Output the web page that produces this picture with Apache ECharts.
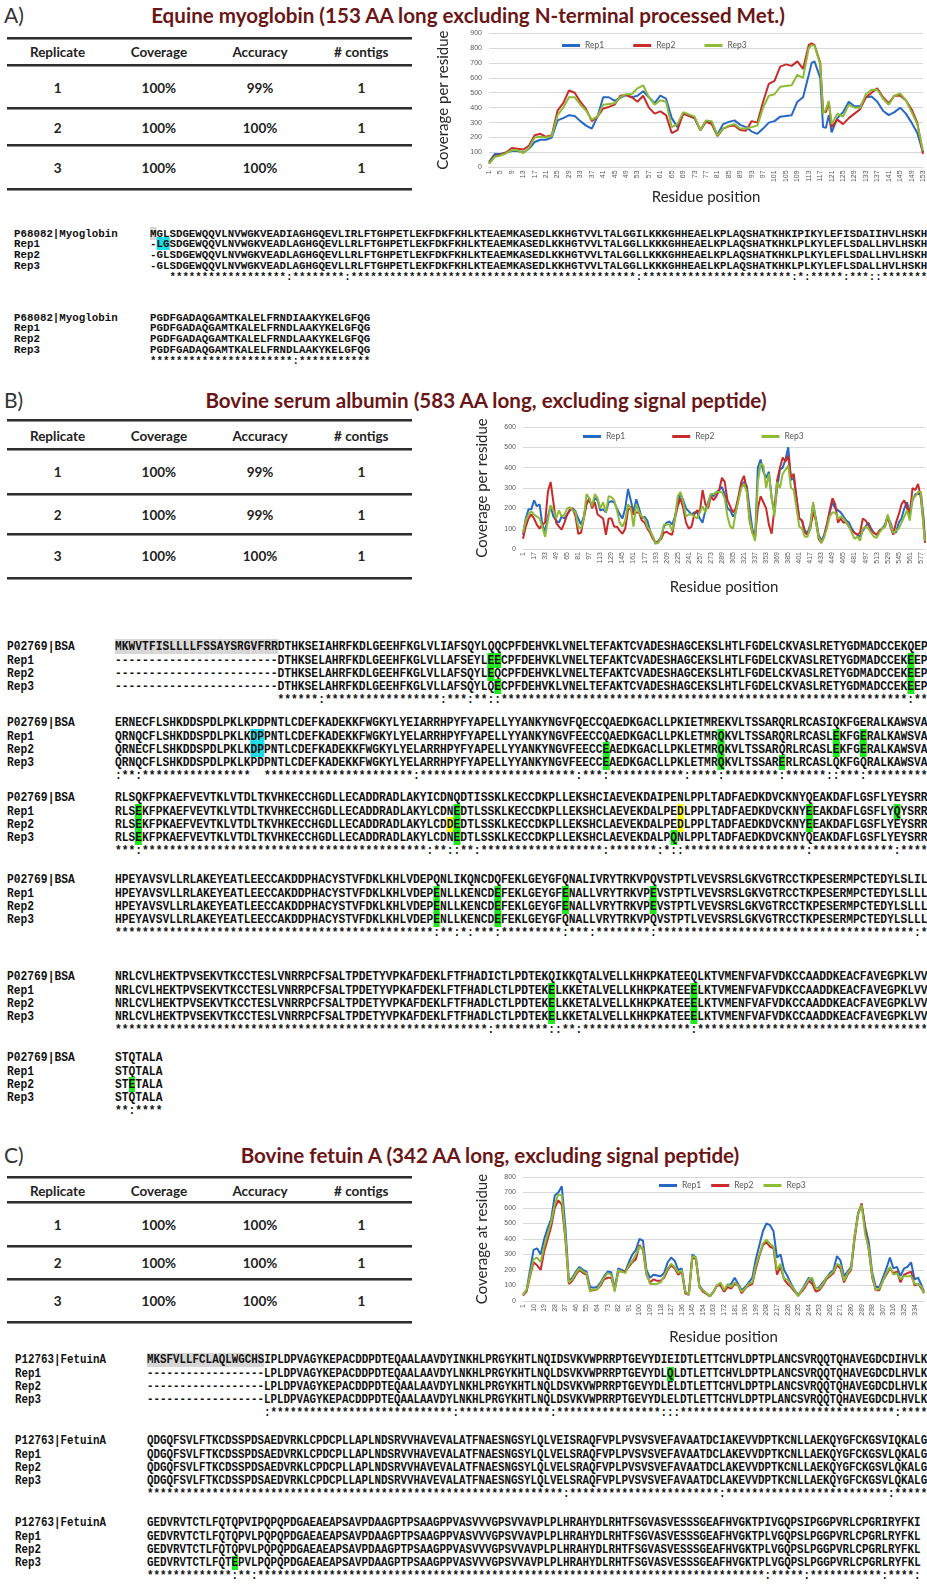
<!DOCTYPE html>
<html>
<head>
<meta charset="utf-8">
<script src="https://cdn.jsdelivr.net/npm/echarts@6.0.0/dist/echarts.min.js"></script>
<style>
  html, body { margin: 0; padding: 0; background: #fff; }
  #page { position: relative; width: 927px; height: 1584px; overflow: hidden; background: #fff; }
  .abs { position: absolute; white-space: pre; }
  .title { font-family: Lato, "Open Sans", sans-serif; font-weight: 700; color: #6b1616; text-align: center; }
  .panel { font-family: Lato, "Open Sans", sans-serif; color: #333; }
  .cell { font-family: Lato, "Open Sans", sans-serif; font-weight: 700; color: #222; text-align: center; }
  .seq { font-family: "Liberation Mono", "DejaVu Sans Mono", monospace; font-weight: 700; color: #111; transform-origin: left center; }
</style>
</head>
<body>
<div id="page"></div>
<script>
// ---------- coverage data (residue position -> coverage) ----------
const mbPos = [1,3,5,7,9,11,13,15,17,19,
  21,23,25,27,29,31,33,35,37,39,
  41,43,45,47,49,51,53,55,57,59,
  61,63,65,67,69,71,73,75,77,79,
  81,83,85,87,89,91,93,95,97,99,
  101,103,105,107,109,111,113,114,115,117,
  118,119,120,121,123,125,127,129,131,133,
  135,137,139,141,143,145,147,149,151,153]
const mbRep1 = [35,90,90,100,110,110,100,125,170,185,
  185,200,315,330,350,345,310,280,260,340,
  470,470,445,465,485,470,480,510,470,430,
  480,460,330,270,360,345,330,250,310,300,
  220,290,305,315,285,270,240,225,260,300,
  310,340,345,350,440,470,620,700,710,600,
  270,265,350,235,330,370,440,410,410,470,
  475,440,380,350,370,400,360,300,230,100]
const mbRep2 = [25,75,85,100,130,125,120,145,215,225,
  205,215,380,430,515,500,440,390,310,340,
  395,405,420,480,485,470,440,480,400,360,
  375,350,230,250,360,345,330,250,305,290,
  210,260,275,280,250,245,310,300,440,560,
  580,675,690,680,710,660,820,830,820,700,
  380,370,440,270,320,290,330,360,390,470,
  500,530,470,430,480,480,450,390,300,90]
const mbRep3 = [25,70,80,95,115,115,95,130,200,205,
  200,210,350,400,470,470,420,380,320,340,
  420,425,430,470,490,490,530,550,470,420,
  450,440,270,290,370,355,340,250,315,310,
  215,260,280,290,260,260,270,280,400,480,
  490,540,545,550,620,600,800,820,815,690,
  360,390,445,290,360,340,420,400,400,490,
  520,520,460,420,480,495,450,370,290,110]

const bsaPos = [1,5,9,13,17,21,25,29,33,37,
  41,45,49,53,57,61,65,69,73,77,
  81,85,89,93,97,101,105,109,113,117,
  121,125,129,133,137,141,145,149,153,157,
  161,165,169,173,177,181,185,189,193,197,
  201,205,209,213,217,221,225,229,233,237,
  241,245,249,253,257,261,265,269,273,277,
  281,285,289,293,297,301,305,309,313,317,
  321,325,329,333,337,341,345,349,353,357,
  361,365,369,373,377,381,385,389,393,397,
  401,405,409,413,417,421,425,429,433,437,
  441,445,449,453,457,461,465,469,473,477,
  481,485,489,493,497,501,505,509,513,517,
  521,525,529,533,537,541,545,549,553,557,
  561,565,569,573,577,581,583]
const bsaRep1 = [70,150,195,195,240,210,220,120,85,160,
  210,160,140,130,160,150,170,190,200,185,
  150,120,160,230,240,210,250,240,190,195,
  180,230,235,230,200,170,150,200,295,240,
  180,245,200,150,160,140,90,60,25,40,
  60,110,130,135,120,160,230,270,240,200,
  185,170,180,180,150,130,190,230,270,260,
  280,290,305,270,200,190,160,180,250,310,
  330,310,200,100,50,400,440,380,350,380,
  250,180,300,390,400,440,500,340,350,250,
  150,140,90,80,120,220,150,70,40,70,
  120,180,230,200,190,180,160,140,130,100,
  80,70,60,90,110,130,100,80,70,90,
  100,120,160,130,90,80,130,150,200,230,
  170,240,270,270,280,150,40]
const bsaRep2 = [50,110,150,170,150,120,100,120,130,280,
  330,230,130,110,95,130,170,195,200,160,
  75,80,150,220,250,200,230,170,160,150,
  70,150,150,110,110,90,75,100,190,210,
  170,180,180,140,130,100,80,50,35,35,
  50,80,85,75,70,150,210,250,200,130,
  100,110,170,190,180,290,220,200,260,240,
  260,290,350,330,240,210,180,200,260,330,
  360,290,140,80,60,200,260,230,200,120,
  75,200,340,400,450,430,460,350,370,250,
  150,140,80,70,100,180,140,50,30,60,
  120,190,250,220,130,150,130,130,110,90,
  80,70,80,150,140,120,90,80,70,90,
  100,110,160,110,70,130,170,220,240,200,
  180,300,290,320,250,120,30]
const bsaRep3 = [80,140,170,185,170,160,150,110,60,140,
  215,190,150,190,160,170,200,205,190,180,
  110,100,150,270,250,210,270,250,200,230,
  180,260,255,240,190,130,110,140,220,200,
  110,220,180,160,150,110,90,60,30,30,
  60,120,120,120,90,150,260,280,230,160,
  170,170,160,150,180,210,180,220,270,270,
  280,280,280,250,160,110,100,180,240,300,
  320,280,150,80,40,330,420,410,300,370,
  250,160,330,300,370,390,410,300,290,200,
  110,100,60,60,110,230,140,60,30,60,
  100,160,180,180,150,160,150,130,110,80,
  50,60,40,100,110,100,80,60,55,80,
  100,110,170,120,80,90,100,130,160,190,
  140,250,260,280,280,100,40]

const fetPos = [1,4,7,10,13,16,19,22,25,28,
  31,34,37,40,43,46,49,52,55,58,
  61,64,67,70,73,76,79,82,85,88,
  91,94,97,100,103,106,109,112,115,118,
  121,124,127,130,133,136,139,142,145,148,
  151,154,157,160,163,166,169,172,175,178,
  181,184,187,190,193,196,199,202,205,208,
  211,214,217,220,223,226,229,232,235,238,
  241,244,247,250,253,256,259,262,265,268,
  271,274,277,280,283,286,289,292,295,298,
  301,304,307,310,313,316,319,322,325,328,
  331,334,337,340,342]
const fetRep1 = [40,70,200,330,340,300,400,470,530,680,
  700,740,480,130,150,190,220,200,190,90,
  85,90,120,160,190,185,80,210,200,190,
  250,300,330,400,390,200,150,170,165,160,
  180,250,280,260,200,210,60,40,300,280,
  100,70,50,30,60,100,110,60,100,110,
  150,110,70,90,120,150,270,360,450,500,
  490,450,280,300,200,160,110,70,40,70,
  110,150,130,80,90,120,150,180,200,290,
  260,160,190,220,420,570,620,480,380,180,
  90,90,150,210,280,210,220,160,210,220,
  250,140,150,100,60]
const fetRep2 = [35,60,160,250,230,200,320,400,480,600,
  650,620,400,110,130,170,200,180,170,70,
  70,75,100,140,150,150,70,190,190,190,
  220,250,270,360,330,170,120,140,130,130,
  150,200,230,210,170,190,50,40,280,270,
  90,60,45,30,60,100,100,60,90,80,
  110,100,50,80,100,110,210,290,360,380,
  350,340,170,220,140,110,90,60,35,60,
  90,130,110,60,70,100,140,160,180,230,
  210,120,170,200,400,560,630,460,330,150,
  70,70,130,170,210,180,190,120,170,180,
  190,100,110,80,50]
const fetRep3 = [40,70,170,270,280,250,350,430,510,620,
  690,680,420,120,140,180,210,190,180,60,
  75,75,110,150,180,170,60,200,190,180,
  230,260,300,350,340,180,110,110,110,120,
  160,210,240,220,180,200,60,40,290,280,
  90,70,50,30,60,100,120,70,110,90,
  120,100,60,80,110,120,230,300,370,395,
  370,350,200,240,140,140,100,70,30,70,
  100,140,150,80,80,110,150,170,190,240,
  230,130,180,210,420,560,620,430,340,160,
  70,80,130,180,220,170,180,140,160,160,
  160,110,110,90,50]

const repNames = ['Rep1', 'Rep2', 'Rep3']
const repColors = ['#2668c4', '#c92a2a', '#8dbb36']

// ---------- tables ----------
const tableHead = ['Replicate', 'Coverage', 'Accuracy', '# contigs']
const tableA = [['1', '100%', '99%', '1'], ['2', '100%', '100%', '1'], ['3', '100%', '100%', '1']]
const tableB = [['1', '100%', '99%', '1'], ['2', '100%', '99%', '1'], ['3', '100%', '100%', '1']]
const tableC = [['1', '100%', '100%', '1'], ['2', '100%', '100%', '1'], ['3', '100%', '100%', '1']]

// ---------- alignments ----------
const mbSeqRef = ['MGLSDGEWQQVLNVWGKVEADIAGHGQEVLIRLFTGHPETLEKFDKFKHLKTEAEMKASEDLKKHGTVVLTALGGILKKKGHHEAELKPLAQSHATKHKIPIKYLEFISDAIIHVLHSKH',
  'PGDFGADAQGAMTKALELFRNDIAAKYKELGFQG']
const mbSeq1 = ['-LGSDGEWQQVLNVWGKVEADLAGHGQEVLLRLFTGHPETLEKFDKFKHLKTEAEMKASEDLKKHGTVVLTALGGLLKKKGHHEAELKPLAQSHATKHKLPLKYLEFLSDALLHVLHSKH',
  'PGDFGADAQGAMTKALELFRNDLAAKYKELGFQG']
const mbSeq2 = ['-GLSDGEWQQVLNVWGKVEADLAGHGQEVLLRLFTGHPETLEKFDKFKHLKTEAEMKASEDLKKHGTVVLTALGGLLKKKGHHEAELKPLAQSHATKHKLPLKYLEFLSDALLHVLHSKH',
  'PGDFGADAQGAMTKALELFRNDLAAKYKELGFQG']
const mbSeq3 = mbSeq2
// [block, row, col, colour]
const mbMarks = [[0, 0, 0, 'g'], [0, 1, 1, 'c'], [0, 1, 2, 'c']]

const bsaSeqRef = ['MKWVTFISLLLLFSSAYSRGVFRRDTHKSEIAHRFKDLGEEHFKGLVLIAFSQYLQQCPFDEHVKLVNELTEFAKTCVADESHAGCEKSLHTLFGDELCKVASLRETYGDMADCCEKQEP',
  'ERNECFLSHKDDSPDLPKLKPDPNTLCDEFKADEKKFWGKYLYEIARRHPYFYAPELLYYANKYNGVFQECCQAEDKGACLLPKIETMREKVLTSSARQRLRCASIQKFGERALKAWSVA',
  'RLSQKFPKAEFVEVTKLVTDLTKVHKECCHGDLLECADDRADLAKYICDNQDTISSKLKECCDKPLLEKSHCIAEVEKDAIPENLPPLTADFAEDKDVCKNYQEAKDAFLGSFLYEYSRR',
  'HPEYAVSVLLRLAKEYEATLEECCAKDDPHACYSTVFDKLKHLVDEPQNLIKQNCDQFEKLGEYGFQNALIVRYTRKVPQVSTPTLVEVSRSLGKVGTRCCTKPESERMPCTEDYLSLIL',
  'NRLCVLHEKTPVSEKVTKCCTESLVNRRPCFSALTPDETYVPKAFDEKLFTFHADICTLPDTEKQIKKQTALVELLKHKPKATEEQLKTVMENFVAFVDKCCAADDKEACFAVEGPKLVV',
  'STQTALA']
const bsaSeq1 = ['------------------------DTHKSELAHRFKDLGEEHFKGLVLLAFSEYLEECPFDEHVKLVNELTEFAKTCVADESHAGCEKSLHTLFGDELCKVASLRETYGDMADCCEKEEP',
  'QRNQCFLSHKDDSPDLPKLKDPPNTLCDEFKADEKKFWGKYLYELARRHPYFYAPELLYYANKYNGVFEECCQAEDKGACLLPKLETMRQKVLTSSARQRLRCASLEKFGERALKAWSVA',
  'RLSEKFPKAEFVEVTKLVTDLTKVHKECCHGDLLECADDRADLAKYLCDNEDTLSSKLKECCDKPLLEKSHCLAEVEKDALPEDLPPLTADFAEDKDVCKNYEEAKDAFLGSFLYQYSRR',
  'HPEYAVSVLLRLAKEYEATLEECCAKDDPHACYSTVFDKLKHLVDEPENLLKENCDEFEKLGEYGFENALLVRYTRKVPEVSTPTLVEVSRSLGKVGTRCCTKPESERMPCTEDYLSLLL',
  'NRLCVLHEKTPVSEKVTKCCTESLVNRRPCFSALTPDETYVPKAFDEKLFTFHADLCTLPDTEKELKKETALVELLKHKPKATEEELKTVMENFVAFVDKCCAADDKEACFAVEGPKLVV',
  'STQTALA']
const bsaSeq2 = ['------------------------DTHKSELAHRFKDLGEEHFKGLVLLAFSQYLEQCPFDEHVKLVNELTEFAKTCVADESHAGCEKSLHTLFGDELCKVASLRETYGDMADCCEKEEP',
  'QRNECFLSHKDDSPDLPKLKDPPNTLCDEFKADEKKFWGKYLYELARRHPYFYAPELLYYANKYNGVFEECCEAEDKGACLLPKLETMRQKVLTSSARQRLRCASLEKFGERALKAWSVA',
  'RLSEKFPKAEFVEVTKLVTDLTKVHKECCHGDLLECADDRADLAKYLCDDEDTLSSKLKECCDKPLLEKSHCLAEVEKDALPEDLPPLTADFAEDKDVCKNYEEAKDAFLGSFLYEYSRR',
  'HPEYAVSVLLRLAKEYEATLEECCAKDDPHACYSTVFDKLKHLVDEPENLLKENCDEFEKLGEYGFENALLVRYTRKVPEVSTPTLVEVSRSLGKVGTRCCTKPESERMPCTEDYLSLLL',
  'NRLCVLHEKTPVSEKVTKCCTESLVNRRPCFSALTPDETYVPKAFDEKLFTFHADLCTLPDTEKELKKETALVELLKHKPKATEEELKTVMENFVAFVDKCCAADDKEACFAVEGPKLVV',
  'STETALA']
const bsaSeq3 = ['------------------------DTHKSELAHRFKDLGEEHFKGLVLLAFSQYLQECPFDEHVKLVNELTEFAKTCVADESHAGCEKSLHTLFGDELCKVASLRETYGDMADCCEKEEP',
  'QRNQCFLSHKDDSPDLPKLKPDPNTLCDEFKADEKKFWGKYLYELARRHPYFYAPELLYYANKYNGVFEECCEAEDKGACLLPKLETMRQKVLTSSARERLRCASLQKFGQRALKAWSVA',
  'RLSEKFPKAEFVEVTKLVTDLTKVHKECCHGDLLECADDRADLAKYLCDNEDTLSSKLKECCDKPLLEKSHCLAEVEKDALPQNLPPLTADFAEDKDVCKNYQEAKDAFLGSFLYEYSRR',
  'HPEYAVSVLLRLAKEYEATLEECCAKDDPHACYSTVFDKLKHLVDEPENLLKENCDEFEKLGEYGFQNALLVRYTRKVPQVSTPTLVEVSRSLGKVGTRCCTKPESERMPCTEDYLSLLL',
  'NRLCVLHEKTPVSEKVTKCCTESLVNRRPCFSALTPDETYVPKAFDEKLFTFHADLCTLPDTEKELKKETALVELLKHKPKATEEELKTVMENFVAFVDKCCAADDKEACFAVEGPKLVV',
  'STQTALA']
const bsaMarks = [
  [0, 1, 55, 'G'], [0, 1, 56, 'G'], [0, 2, 55, 'G'], [0, 3, 56, 'G'],
  [0, 1, 117, 'G'], [0, 2, 117, 'G'], [0, 3, 117, 'G'],
  [1, 1, 20, 'c'], [1, 1, 21, 'c'], [1, 2, 20, 'c'], [1, 2, 21, 'c'],
  [1, 2, 72, 'G'], [1, 3, 72, 'G'], [1, 1, 89, 'G'], [1, 2, 89, 'G'], [1, 3, 89, 'G'],
  [1, 3, 98, 'G'], [1, 1, 106, 'G'], [1, 2, 106, 'G'], [1, 1, 110, 'G'], [1, 2, 110, 'G'],
  [2, 1, 3, 'G'], [2, 2, 3, 'G'], [2, 3, 3, 'G'], [2, 1, 50, 'G'], [2, 2, 50, 'G'], [2, 3, 50, 'G'],
  [2, 2, 49, 'y'], [2, 1, 83, 'y'], [2, 2, 83, 'y'], [2, 3, 82, 'G'],
  [2, 1, 102, 'G'], [2, 2, 102, 'G'], [2, 1, 115, 'G'],
  [3, 1, 47, 'G'], [3, 2, 47, 'G'], [3, 3, 47, 'G'], [3, 1, 56, 'G'], [3, 2, 56, 'G'], [3, 3, 56, 'G'],
  [3, 1, 66, 'G'], [3, 2, 66, 'G'], [3, 1, 79, 'G'], [3, 2, 79, 'G'],
  [4, 1, 64, 'G'], [4, 2, 64, 'G'], [4, 3, 64, 'G'], [4, 1, 85, 'G'], [4, 2, 85, 'G'], [4, 3, 85, 'G'],
  [5, 2, 2, 'G']]

const fetSeqRef = ['MKSFVLLFCLAQLWGCHSIPLDPVAGYKEPACDDPDTEQAALAAVDYINKHLPRGYKHTLNQIDSVKVWPRRPTGEVYDIEIDTLETTCHVLDPTPLANCSVRQQTQHAVEGDCDIHVLK',
  'QDGQFSVLFTKCDSSPDSAEDVRKLCPDCPLLAPLNDSRVVHAVEVALATFNAESNGSYLQLVEISRAQFVPLPVSVSVEFAVAATDCIAKEVVDPTKCNLLAEKQYGFCKGSVIQKALG',
  'GEDVRVTCTLFQTQPVIPQPQPDGAEAEAPSAVPDAAGPTPSAAGPPVASVVVGPSVVAVPLPLHRAHYDLRHTFSGVASVESSSGEAFHVGKTPIVGQPSIPGGPVRLCPGRIRYFKI']
const fetSeq1 = ['------------------LPLDPVAGYKEPACDDPDTEQAALAAVDYLNKHLPRGYKHTLNQLDSVKVWPRRPTGEVYDLQLDTLETTCHVLDPTPLANCSVRQQTQHAVEGDCDLHVLK',
  'QDGQFSVLFTKCDSSPDSAEDVRKLCPDCPLLAPLNDSRVVHAVEVALATFNAESNGSYLQLVELSRAQFVPLPVSVSVEFAVAATDCLAKEVVDPTKCNLLAEKQYGFCKGSVLQKALG',
  'GEDVRVTCTLFQTQPVLPQPQPDGAEAEAPSAVPDAAGPTPSAAGPPVASVVVGPSVVAVPLPLHRAHYDLRHTFSGVASVESSSGEAFHVGKTPLVGQPSLPGGPVRLCPGRLRYFKL']
const fetSeq2 = ['------------------LPLDPVAGYKEPACDDPDTEQAALAAVDYLNKHLPRGYKHTLNQLDSVKVWPRRPTGEVYDLELDTLETTCHVLDPTPLANCSVRQQTQHAVEGDCDLHVLK',
  fetSeq1[1], fetSeq1[2]]
const fetSeq3 = [fetSeq2[0], fetSeq1[1],
  'GEDVRVTCTLFQTEPVLPQPQPDGAEAEAPSAVPDAAGPTPSAAGPPVASVVVGPSVVAVPLPLHRAHYDLRHTFSGVASVESSSGEAFHVGKTPLVGQPSLPGGPVRLCPGRLRYFKL']
const fetMarks = [[0, 1, 80, 'G'], [2, 3, 13, 'G']]

const markColors = { g: '#d6d6d6', G: '#1fe81f', c: '#19dde6', y: '#ffff14' }

const page = document.getElementById('page')

function addDiv(cls, text, css) {
  const d = document.createElement('div')
  d.className = 'abs ' + cls
  if (text !== null) d.textContent = text
  Object.assign(d.style, css)
  page.appendChild(d)
  return d
}

function drawTitle(letter, title, cy, cx) {
  addDiv('panel', letter, { left: '4px', top: (cy - 14) + 'px', fontSize: '21px', lineHeight: '28px' })
  addDiv('title', title, { left: (cx - 420) + 'px', width: '840px', top: (cy - 14) + 'px', fontSize: '20.6px', lineHeight: '28px' })
}

function drawTable(rows, lines, textY) {
  const cols = [57.6, 158.9, 260, 361.3]
  lines.forEach(y => {
    addDiv('', null, { left: '7px', top: (y - 1.5) + 'px', width: '405px', height: '3px',
      background: 'linear-gradient(#2e2e2e 0 60%, #8d8d8d 60%)' })
  })
  const all = [tableHead].concat(rows)
  all.forEach((r, ri) => {
    r.forEach((t, ci) => {
      addDiv('cell', t, { left: (cols[ci] - 55) + 'px', width: '110px', top: (textY[ri] - 10) + 'px',
        fontSize: '13.5px', lineHeight: '20px' })
    })
  })
}

// clustal-like conservation line
const strongGroups = ['STA', 'NEQK', 'NHQK', 'NDEQ', 'QHRK', 'MILV', 'MILF', 'HY', 'FYW']
const weakGroups = ['CSA', 'ATV', 'SAG', 'STNK', 'STPA', 'SGND', 'SNDEQK', 'NDEQHK', 'NEQHRK', 'FVLIM', 'HFY']
function consensus(rows) {
  const n = Math.max(...rows.map(r => r.length))
  let out = ''
  for (let i = 0; i < n; i++) {
    const cs = rows.map(r => r[i])
    if (cs.some(c => c === undefined || c === '-')) { out += ' '; continue }
    if (cs.every(c => c === cs[0])) out += '*'
    else if (strongGroups.some(g => cs.every(c => g.includes(c)))) out += ':'
    else if (weakGroups.some(g => cs.every(c => g.includes(c)))) out += '.'
    else out += ' '
  }
  return out
}

function drawAlign(cfg) {
  // glyphs drawn at cfg.fs, squeezed horizontally to the cell width cfg.cw
  const sx = cfg.cw / (0.6 * cfg.fs)
  cfg.tops.forEach((top, b) => {
    const rows = [cfg.ref[b], cfg.rep1[b], cfg.rep2[b], cfg.rep3[b]]
    const lines = rows.concat([consensus(rows)])
    const labels = [cfg.refName, 'Rep1', 'Rep2', 'Rep3', '']
    lines.forEach((s, r) => {
      const y = top + r * cfg.lh - cfg.lh / 2
      const base = { top: y + 'px', fontSize: cfg.fs + 'px', lineHeight: cfg.lh + 'px', transform: 'scaleX(' + sx + ')' }
      if (labels[r]) {
        addDiv('seq', labels[r], Object.assign({ left: cfg.labelX + 'px' }, base))
      }
      const marks = {}
      cfg.marks.forEach(m => { if (m[0] === b && m[1] === r) marks[m[2]] = markColors[m[3]] })
      if (r === 0 && cfg.greyTo[b] > 0) {
        for (let i = 0; i < cfg.greyTo[b]; i++) marks[i] = markColors.g
      }
      let html = ''
      for (let i = 0; i < s.length; i++) {
        html += marks[i] ? '<span style="background:' + marks[i] + '">' + s[i] + '</span>' : s[i]
      }
      const d = addDiv('seq', null, Object.assign({ left: cfg.seqX + 'px' }, base))
      d.innerHTML = html
    })
  })
}

function drawChart(box, cfg) {
  const el = addDiv('', null, { left: box[0] + 'px', top: box[1] + 'px', width: box[2] + 'px', height: box[3] + 'px' })
  const chart = echarts.init(el, null, { renderer: 'canvas' })
  const cats = []
  for (let i = 1; i <= cfg.n; i++) cats.push(String(i))
  const nameStyle = { fontSize: 15, color: '#262626', fontFamily: 'Lato' }
  chart.setOption({
    animation: false,
    textStyle: { fontFamily: 'Lato' },
    legend: {
      data: repNames,
      left: cfg.legendLeft,
      top: cfg.legendTop,
      itemGap: cfg.legendGap,
      itemWidth: 18,
      itemHeight: 3,
      icon: 'rect',
      textStyle: { fontSize: 8.5, color: '#595959' },
    },
    grid: cfg.grid,
    xAxis: {
      type: 'category',
      data: cats,
      boundaryGap: false,
      name: 'Residue position',
      nameLocation: 'middle',
      nameGap: cfg.xNameGap,
      nameTextStyle: nameStyle,
      axisLine: { lineStyle: { color: '#d9d9d9', width: 1 } },
      axisTick: { show: false },
      axisLabel: { interval: cfg.labelEvery - 1, rotate: 90, fontSize: 7, color: '#595959', margin: 3, fontFamily: 'Liberation Sans' },
      splitLine: { show: false },
    },
    yAxis: {
      type: 'value',
      min: 0,
      max: cfg.max,
      interval: 100,
      name: cfg.yName,
      nameLocation: 'middle',
      nameGap: cfg.yNameGap,
      nameTextStyle: nameStyle,
      axisLine: { show: false },
      axisTick: { show: false },
      axisLabel: { fontSize: 7, color: '#595959', margin: 7, fontFamily: 'Liberation Sans' },
      splitLine: { lineStyle: { color: '#d9d9d9', width: 1 } },
    },
    series: cfg.reps.map((vals, k) => ({
      name: repNames[k],
      type: 'line',
      data: cfg.pos.map((p, i) => [p - 1, vals[i]]),
      symbol: 'none',
      showSymbol: false,
      lineStyle: { width: 2, color: repColors[k] },
      itemStyle: { color: repColors[k] },
    })),
  })
}

// ---------- panel A ----------
drawTitle('A)', 'Equine myoglobin (153 AA long excluding N-terminal processed Met.)', 15, 468)
drawTable(tableA, [38, 65, 108, 145, 189], [51.5, 87.5, 127.5, 167.5])
drawChart([415, 25, 512, 185], {
  n: 153, pos: mbPos, reps: [mbRep1, mbRep2, mbRep3], max: 900, labelEvery: 4,
  grid: { left: 74, right: 4, top: 8, bottom: 41 },
  legendLeft: 142, legendTop: 11, legendGap: 29,
  yName: 'Coverage per residue', yNameGap: 38, xNameGap: 21,
})
drawAlign({ ref: mbSeqRef, rep1: mbSeq1, rep2: mbSeq2, rep3: mbSeq3, refName: 'P68082|Myoglobin',
  marks: mbMarks, greyTo: [0, 0], labelX: 14, seqX: 150, cw: 6.475, fs: 11.5, lh: 10.8, tops: [234, 318] })

// ---------- panel B ----------
drawTitle('B)', 'Bovine serum albumin (583 AA long, excluding signal peptide)', 400, 486)
drawTable(tableB, [420, 449, 494, 534, 578], [436, 472, 515, 556])
drawChart([415, 385, 512, 215], {
  n: 583, pos: bsaPos, reps: [bsaRep1, bsaRep2, bsaRep3], max: 600, labelEvery: 16,
  grid: { left: 108, right: 2, top: 42, bottom: 41 },
  legendLeft: 163, legendTop: 42, legendGap: 47,
  yName: 'Coverage per residue', yNameGap: 33, xNameGap: 31,
})
drawAlign({ ref: bsaSeqRef, rep1: bsaSeq1, rep2: bsaSeq2, rep3: bsaSeq3, refName: 'P02769|BSA',
  marks: bsaMarks, greyTo: [24, 0, 0, 0, 0, 0], labelX: 7, seqX: 115, cw: 6.77, fs: 13, lh: 13.2,
  tops: [647, 723, 798, 880, 977, 1058] })

// ---------- panel C ----------
drawTitle('C)', 'Bovine fetuin A (342 AA long, excluding signal peptide)', 1155, 490)
drawTable(tableC, [1177, 1202, 1246, 1279, 1322], [1191, 1225, 1263, 1301])
drawChart([415, 1155, 512, 195], {
  n: 342, pos: fetPos, reps: [fetRep1, fetRep2, fetRep3], max: 800, labelEvery: 9,
  grid: { left: 108, right: 3, top: 22, bottom: 47 },
  legendLeft: 239, legendTop: 21, legendGap: 10,
  yName: 'Coverage at residue', yNameGap: 33, xNameGap: 29,
})
drawAlign({ ref: fetSeqRef, rep1: fetSeq1, rep2: fetSeq2, rep3: fetSeq3, refName: 'P12763|FetuinA',
  marks: fetMarks, greyTo: [18, 0, 0], labelX: 15, seqX: 147, cw: 6.5, fs: 12.5, lh: 13.2, tops: [1361, 1442, 1524] })
</script>
</body>
</html>
